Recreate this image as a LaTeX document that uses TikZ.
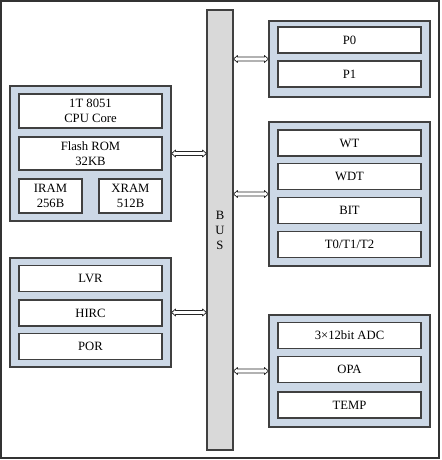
\documentclass[tikz,border=0pt]{standalone}
\usepackage{fontspec}
\setmainfont{Liberation Serif}
\usetikzlibrary{calc}
\def\px{0.75pt}
\definecolor{grpblue}{HTML}{CCD8E6}
\definecolor{busgray}{HTML}{D9D9D9}
\definecolor{edge}{HTML}{404040}
\def\link#1#2{\draw[link] (#1) -- ++(4,-3.5) -- ++(0,1.5) -- ($(#2)+(-4,-2)$) -- ++(0,-1.5) -- (#2) -- ++(-4,3.5) -- ++(0,-1.5) -- ($(#1)+(4,2)$) -- ++(0,1.5) -- cycle}
\tikzstyle{unit}=[draw=edge,fill=white,line width=0.9pt,inner sep=0pt,minimum width=143*\px,minimum height=26*\px,align=center,font=\fontsize{9.5}{11.25}\selectfont]
\tikzstyle{group}=[draw=edge,fill=grpblue,line width=0.9pt,inner sep=0pt,minimum width=161*\px]
\tikzstyle{bus}=[draw=edge,fill=busgray,line width=0.8pt,inner sep=0pt,minimum width=26*\px,minimum height=440*\px,align=center,font=\fontsize{9.5}{11.25}\selectfont]
\tikzstyle{link}=[draw=black!85,fill=white,line width=0.55pt,line join=round]

\begin{document}
\begin{tikzpicture}[x=\px,y=-\px]
    \useasboundingbox (0,0) rectangle (442,460);
    \draw[black!80,line width=0.9pt] (1,1) rectangle (439,458);
    \node[bus] (bus) at (220,230) {B\\U\\S};
    % core side
    \node[group,minimum height=135*\px] (core) at (90.5,153.5) {};
    \node[unit,minimum height=34*\px] (cpu) at (90.5,111) {1T 8051\\CPU Core};
    \node[unit,minimum height=33*\px] (flash) at (90.5,153.5) {Flash ROM\\32KB};
    \node[unit,minimum width=63*\px,minimum height=34*\px] (iram) at (50.5,196) {IRAM\\256B};
    \node[unit,minimum width=63*\px,minimum height=34*\px] (xram) at (130.5,196) {XRAM\\512B};
    % reset and clock
    \node[group,minimum height=109*\px] (sys) at (90.5,312.5) {};
    \node[unit] (lvr) at (90.5,278.5) {LVR};
    \node[unit] (hirc) at (90.5,313) {HIRC};
    \node[unit] (por) at (90.5,346.5) {POR};
    % ports
    \node[group,minimum height=76*\px] (port) at (349.5,59) {};
    \node[unit] (p0) at (349.5,40) {P0};
    \node[unit] (p1) at (349.5,74) {P1};
    % timers
    \node[group,minimum height=144*\px] (timer) at (349.5,194) {};
    \node[unit] (wt) at (349.5,143) {WT};
    \node[unit] (wdt) at (349.5,176.5) {WDT};
    \node[unit] (bit) at (349.5,210.5) {BIT};
    \node[unit] (tmr) at (349.5,244.5) {T0/T1/T2};
    % analog
    \node[group,minimum height=112*\px] (ana) at (349.5,371) {};
    \node[unit] (adc) at (349.5,335.5) {3×12bit ADC};
    \node[unit] (opa) at (349.5,369.5) {OPA};
    \node[unit] (temp) at (349.5,405) {TEMP};
    % bus links
    \link{core.east}{bus.west |- core.east};
    \link{sys.east}{bus.west |- sys.east};
    \link{bus.east |- port.west}{port.west};
    \link{bus.east |- timer.west}{timer.west};
    \link{bus.east |- ana.west}{ana.west};
\end{tikzpicture}
\end{document}
